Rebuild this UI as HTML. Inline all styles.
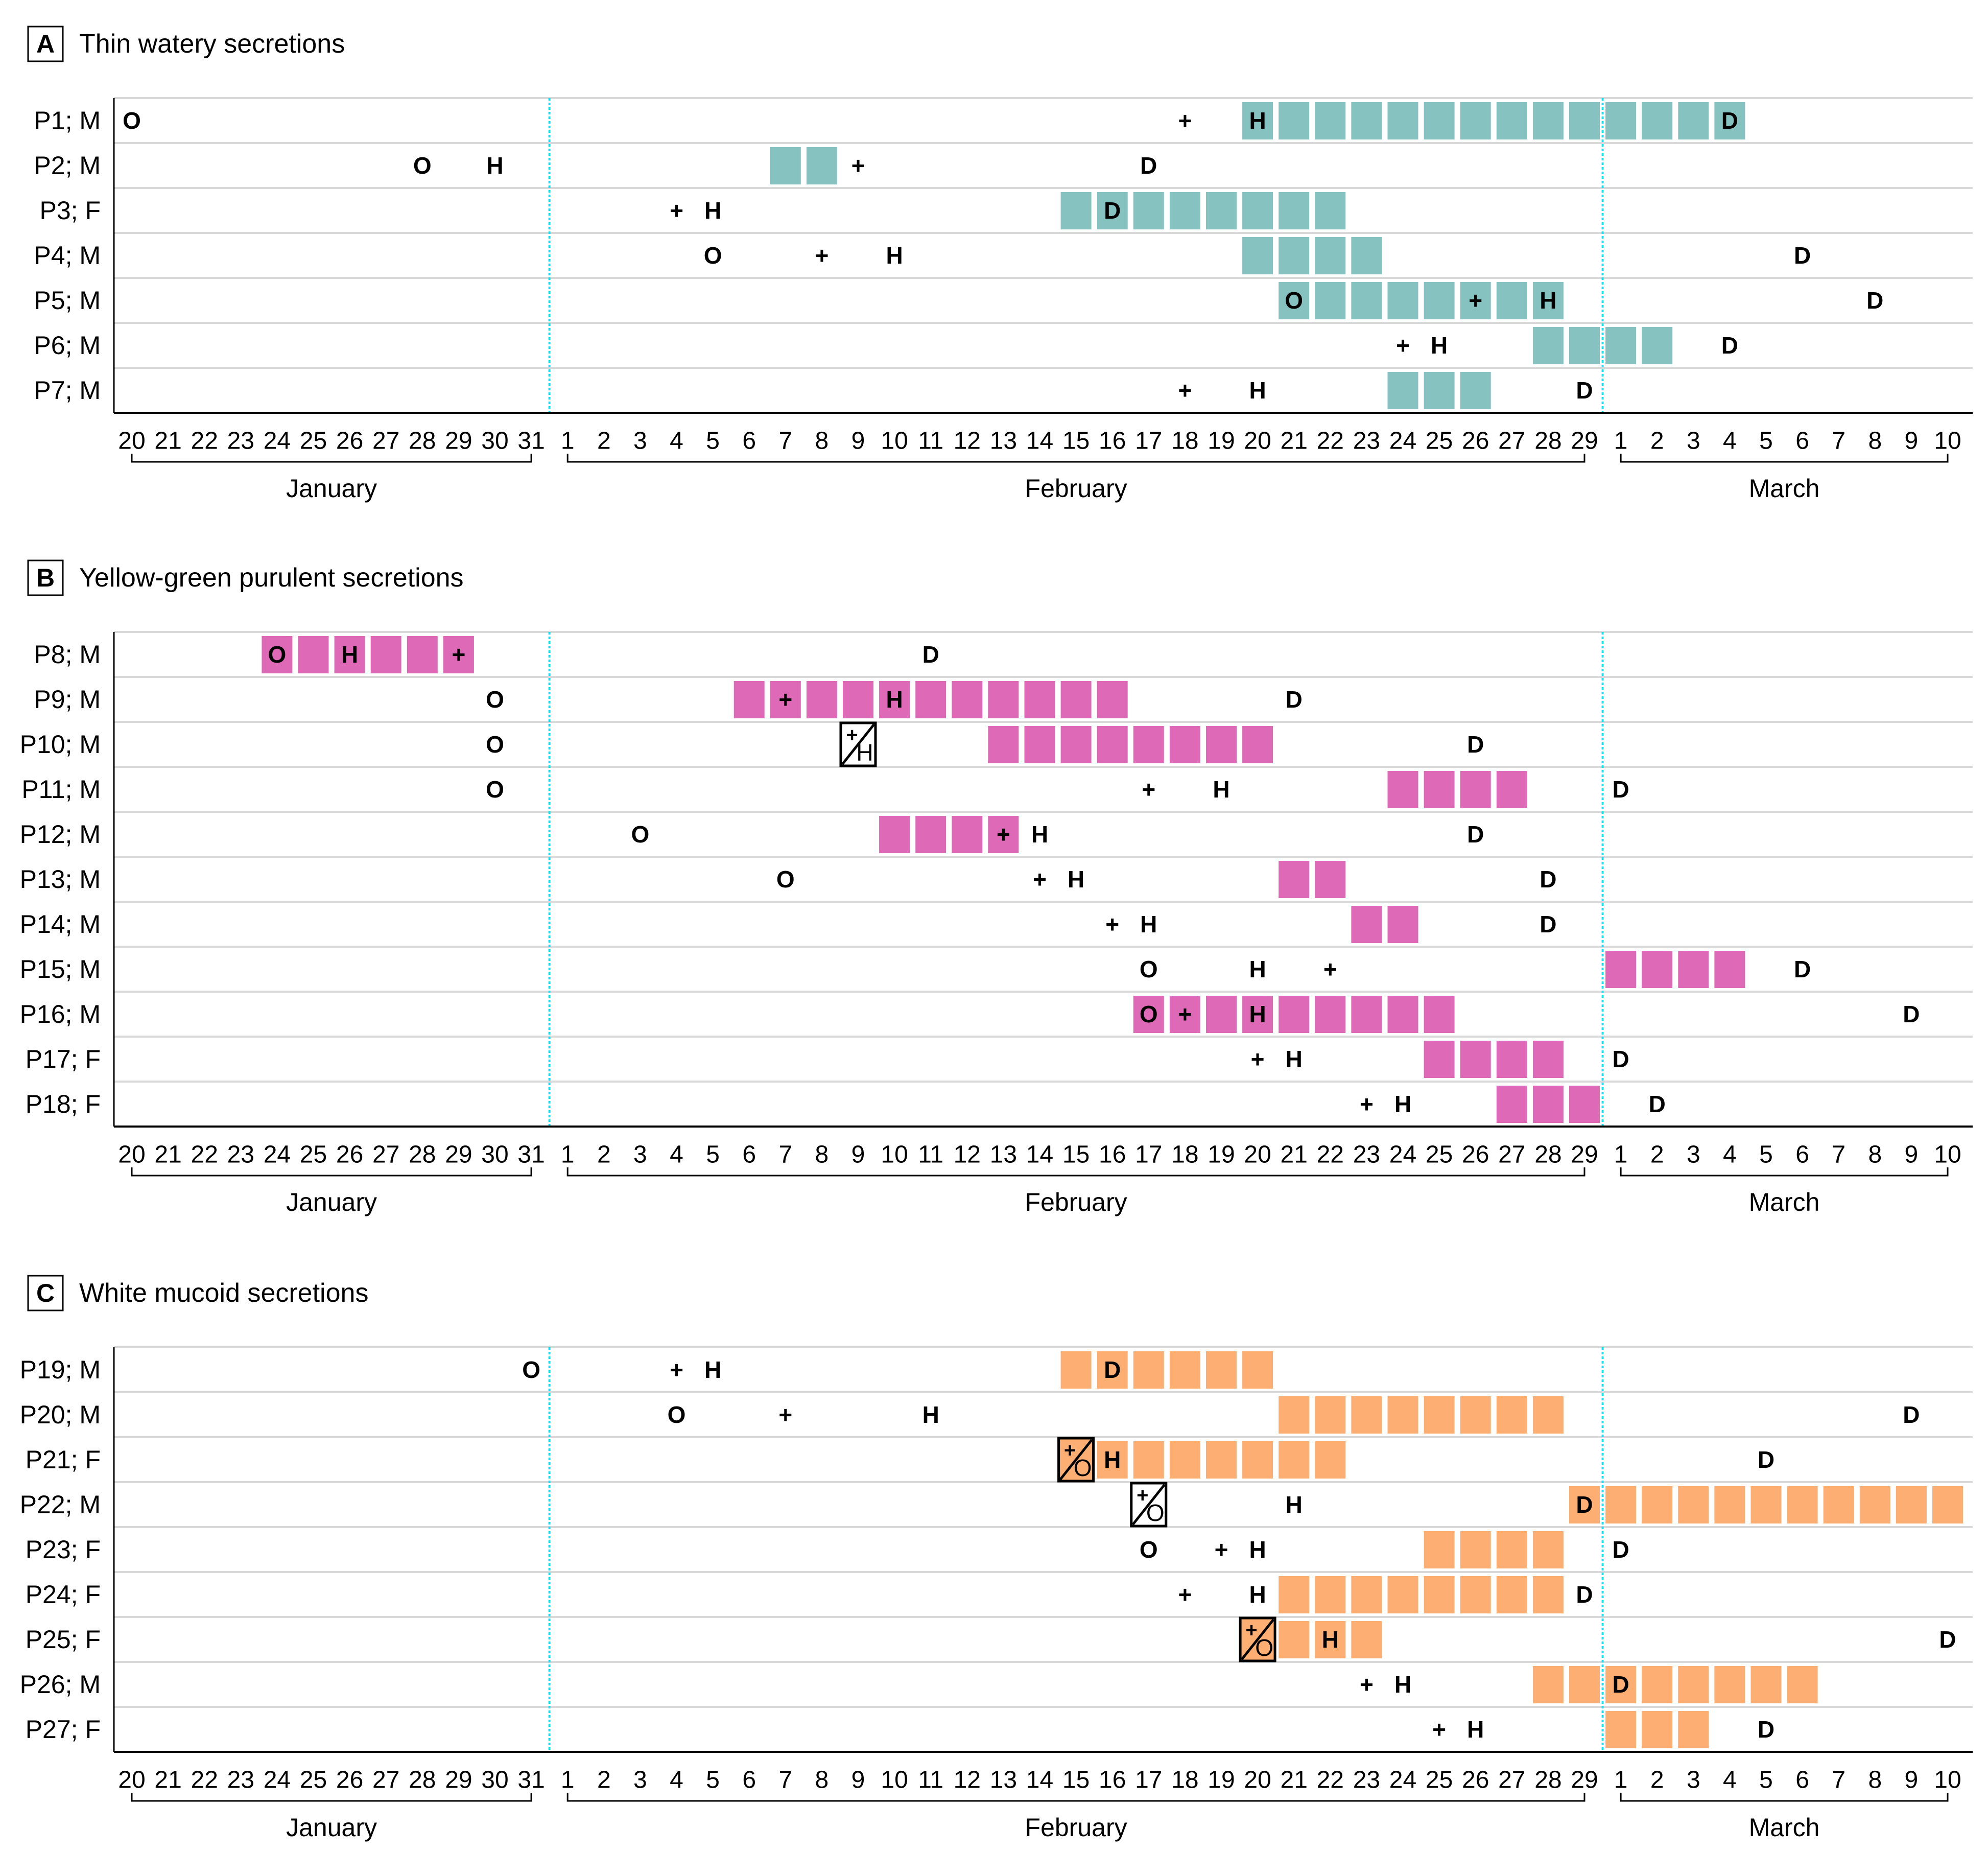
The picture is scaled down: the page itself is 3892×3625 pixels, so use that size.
<!DOCTYPE html>
<html><head><meta charset="utf-8"><style>
html,body{margin:0;padding:0;background:#fff;}
svg{display:block;font-family:"Liberation Sans Narrow","Liberation Sans",sans-serif;}
</style></head><body>
<svg id="chart" width="3892" height="3625" viewBox="0 0 3892 3625" xmlns="http://www.w3.org/2000/svg"></svg>
<script>
// ---- data ----
const dayTicks = [20,21,22,23,24,25,26,27,28,29,30,31,1,2,3,4,5,6,7,8,9,10,11,12,13,14,15,16,17,18,19,20,21,22,23,24,25,26,27,28,29,1,2,3,4,5,6,7,8,9,10];
const months = [{name:"January",from:"J20",to:"J31"},{name:"February",from:"F1",to:"F29"},{name:"March",from:"M1",to:"M10"}];
const panelLetters = ["A","B","C"];
const panelTitles = ["Thin watery secretions","Yellow-green purulent secretions","White mucoid secretions"];
const panelColors = ["#86C2C0","#DE69B6","#FDAF73"];
const panelA_patients = ["P1; M","P2; M","P3; F","P4; M","P5; M","P6; M","P7; M"];
const panelA_boxes = [["F20","M4"],["F7","F8"],["F15","F22"],["F20","F23"],["F21","F28"],["F28","M2"],["F24","F26"]];
const panelA_events = [
 [["O","J20"],["+","F18"],["H","F20"],["D","M4"]],
 [["O","J28"],["H","J30"],["+","F9"],["D","F17"]],
 [["+","F4"],["H","F5"],["D","F16"]],
 [["O","F5"],["+","F8"],["H","F10"],["D","M6"]],
 [["O","F21"],["+","F26"],["H","F28"],["D","M8"]],
 [["+","F24"],["H","F25"],["D","M4"]],
 [["+","F18"],["H","F20"],["D","F29"]]];
const panelA_special = [[],[],[],[],[],[],[]];
const panelB_patients = ["P8; M","P9; M","P10; M","P11; M","P12; M","P13; M","P14; M","P15; M","P16; M","P17; F","P18; F"];
const panelB_boxes = [["J24","J29"],["F6","F16"],["F13","F20"],["F24","F27"],["F10","F13"],["F21","F22"],["F23","F24"],["M1","M4"],["F17","F25"],["F25","F28"],["F27","F29"]];
const panelB_events = [
 [["O","J24"],["H","J26"],["+","J29"],["D","F11"]],
 [["O","J30"],["+","F7"],["H","F10"],["D","F21"]],
 [["O","J30"],["D","F26"]],
 [["O","J30"],["+","F17"],["H","F19"],["D","M1"]],
 [["O","F3"],["+","F13"],["H","F14"],["D","F26"]],
 [["O","F7"],["+","F14"],["H","F15"],["D","F28"]],
 [["+","F16"],["H","F17"],["D","F28"]],
 [["O","F17"],["H","F20"],["+","F22"],["D","M6"]],
 [["O","F17"],["+","F18"],["H","F20"],["D","M9"]],
 [["+","F20"],["H","F21"],["D","M1"]],
 [["+","F23"],["H","F24"],["D","M2"]]];
const panelB_special = [[],[],[["F9","H",false]],[],[],[],[],[],[],[],[]];
const panelC_patients = ["P19; M","P20; M","P21; F","P22; M","P23; F","P24; F","P25; F","P26; M","P27; F"];
const panelC_boxes = [["F15","F20"],["F21","F28"],["F16","F22"],["F29","M10"],["F25","F28"],["F21","F28"],["F21","F23"],["F28","M6"],["M1","M3"]];
const panelC_events = [
 [["O","J31"],["+","F4"],["H","F5"],["D","F16"]],
 [["O","F4"],["+","F7"],["H","F11"],["D","M9"]],
 [["H","F16"],["D","M5"]],
 [["H","F21"],["D","F29"]],
 [["O","F17"],["+","F19"],["H","F20"],["D","M1"]],
 [["+","F18"],["H","F20"],["D","F29"]],
 [["H","F22"],["D","M10"]],
 [["+","F23"],["H","F24"],["D","M1"]],
 [["+","F25"],["H","F26"],["D","M5"]]];
const panelC_special = [[],[],[["F15","O",true]],[["F17","O",false]],[],[],[["F20","O",true]],[],[]];
const panelGridTops = [192,1237,2637];

// ---- geometry ----
const NS="http://www.w3.org/2000/svg";
const svg=document.getElementById('chart');
const X0=258, DX=71.1, ROWH=88, PLOT_L=223, PLOT_R=3862;
function dayIndex(s){const m=s[0],d=parseInt(s.slice(1));if(m==="J")return d-20;if(m==="F")return d+11;return d+40;}
function xScale(s){return X0+dayIndex(s)*DX;}
function xIdx(i){return X0+i*DX;}
function el(tag,attrs,parent){const e=document.createElementNS(NS,tag);for(const k in attrs)e.setAttribute(k,attrs[k]);(parent||svg).appendChild(e);return e;}

const panels=[[panelA_patients,panelA_boxes,panelA_events,panelA_special],[panelB_patients,panelB_boxes,panelB_events,panelB_special],[panelC_patients,panelC_boxes,panelC_events,panelC_special]];

panels.forEach((p,pi)=>{
  const [pats,boxes,events,specials]=p;
  const top=panelGridTops[pi];
  const bottom=top+pats.length*ROWH;
  const g=el('g',{});
  
  
  // title
  const lb=el('rect',{x:55,y:top-140,width:68,height:68,fill:'none',stroke:'#000','stroke-width':3},g);
  
  
  const lt=el('text',{x:89,y:top-106,'text-anchor':'middle','dominant-baseline':'central','font-size':50,'font-weight':'bold'},g);
  lt.textContent=panelLetters[pi];
  
  
  const tt=el('text',{x:155,y:top-106,'dominant-baseline':'central','font-size':52},g);
  tt.textContent=panelTitles[pi];
  
  
  // gridlines
  for(let r=0;r<pats.length;r++){
    const gl=el('line',{x1:PLOT_L,x2:PLOT_R,y1:top+r*ROWH,y2:top+r*ROWH,stroke:'#d9d9d9','stroke-width':4},g);
    
    
  }
  // dashed month separators
  [11.5,40.5].forEach(v=>{
    const dl=el('line',{x1:xIdx(v),x2:xIdx(v),y1:top,y2:bottom,stroke:'#1EDCF0','stroke-width':4,'stroke-dasharray':'5 4'},g);
    
    
  });
  // rows
  pats.forEach((name,r)=>{
    const cy=top+r*ROWH+ROWH/2;
    const lab=el('text',{x:197,y:cy,'text-anchor':'end','dominant-baseline':'central','font-size':50},g);
    lab.textContent=name;
    
    
    const b=boxes[r];
    for(let i=dayIndex(b[0]);i<=dayIndex(b[1]);i++){
      const bx=el('rect',{x:xIdx(i)-30,y:cy-36,width:60,height:73,fill:panelColors[pi]},g);
      
      
    }
    specials[r].forEach(s=>{
      const sx=xScale(s[0]);
      const sr=el('rect',{x:sx-34,y:cy-42,width:68,height:84,fill:s[2]?panelColors[pi]:'#fff',stroke:'#000','stroke-width':5},g);
      
      
      const sl=el('line',{x1:sx+31,y1:cy-39,x2:sx-31,y2:cy+39,stroke:'#000','stroke-width':5},g);
      
      
      const sp=el('text',{x:sx-12,y:cy-18,'text-anchor':'middle','dominant-baseline':'central','font-size':40,'font-weight':'bold'},g);
      sp.textContent='+';
      
      
      const so=el('text',{x:sx+13,y:cy+16,'text-anchor':'middle','dominant-baseline':'central','font-size':46},g);
      so.textContent=s[1];
      
      
    });
    events[r].forEach(ev=>{
      const t=el('text',{x:xScale(ev[1]),y:cy,'text-anchor':'middle','dominant-baseline':'central','font-size':46,'font-weight':'bold'},g);
      t.textContent=ev[0];
      
      
    });
  });
  // axes
  const ya=el('line',{x1:PLOT_L,x2:PLOT_L,y1:top,y2:bottom,stroke:'#000','stroke-width':3},g);
  
  
  const xa=el('line',{x1:PLOT_L,x2:PLOT_R,y1:bottom,y2:bottom,stroke:'#000','stroke-width':4},g);
  
  
  dayTicks.forEach((d,i)=>{
    const t=el('text',{x:xIdx(i),y:bottom+55,'text-anchor':'middle','dominant-baseline':'central','font-size':48},g);
    t.textContent=d;
    
    
  });
  months.forEach(m=>{
    const a=xScale(m.from),b=xScale(m.to),by=bottom+96;
    const br=el('path',{d:`M${a} ${by-16}V${by}H${b}V${by-16}`,fill:'none',stroke:'#000','stroke-width':3},g);
    
    
    const mt=el('text',{x:(a+b)/2,y:bottom+148,'text-anchor':'middle','dominant-baseline':'central','font-size':50},g);
    mt.textContent=m.name;
    
    
  });
});
</script>
</body></html>
